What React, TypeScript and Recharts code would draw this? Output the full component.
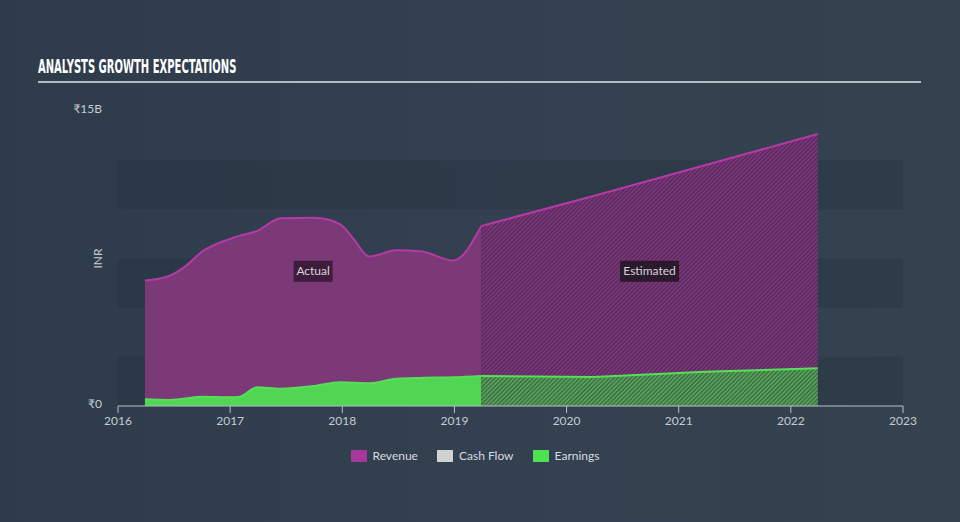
import React from "react";
import {
  ComposedChart,
  Area,
  XAxis,
  YAxis,
  ReferenceArea,
  ReferenceDot,
  Legend,
} from "recharts";

// reported figures (₹ billions), dates as fractional years
const actualDates = [
  2016.24, 2016.45, 2016.6, 2016.75, 2017.0, 2017.08, 2017.24, 2017.45, 2017.75,
  2017.98, 2018.1, 2018.24, 2018.48, 2018.7, 2018.99, 2019.24,
];
const revenueActual = [
  6.38, 6.6, 7.1, 7.85, 8.5, 8.65, 8.9, 9.55, 9.57, 9.25, 8.5, 7.6, 7.92, 7.87, 7.4, 9.15,
];
const earningsActual = [
  0.34, 0.31, 0.38, 0.47, 0.44, 0.46, 0.95, 0.88, 1.02, 1.21, 1.18, 1.16, 1.38, 1.43, 1.46, 1.53,
];

// analyst estimates
const estimateDates = [2019.24, 2020.24, 2021.24, 2022.24];
const revenueEstimate = [9.15, 10.68, 12.25, 13.83];
const earningsEstimate = [1.53, 1.47, 1.74, 1.92];

const yearTicks = [2016, 2017, 2018, 2019, 2020, 2021, 2022, 2023];
const valueTicks = [0, 15];
const bandRanges = [
  [0, 2.5],
  [5, 7.5],
  [10, 12.5],
];

const legendItems = [
  { label: "Revenue", color: "#a8379c" },
  { label: "Cash Flow", color: "#d0d0d0" },
  { label: "Earnings", color: "#4fe250" },
];

const allDates = Array.from(new Set([...actualDates, ...estimateDates])).sort((a, b) => a - b);
const rows = allDates.map((t) => {
  const ai = actualDates.indexOf(t);
  const ei = estimateDates.indexOf(t);
  return {
    t,
    revenueActual: ai >= 0 ? revenueActual[ai] : null,
    earningsActual: ai >= 0 ? earningsActual[ai] : null,
    revenueEstimate: ei >= 0 ? revenueEstimate[ei] : null,
    earningsEstimate: ei >= 0 ? earningsEstimate[ei] : null,
  };
});

const actualMid = (actualDates[0] + actualDates[actualDates.length - 1]) / 2;
const estimateMid = (estimateDates[0] + estimateDates[estimateDates.length - 1]) / 2;
const LABEL_Y = 6.85;

const FONT = "Lato, 'Open Sans', 'DejaVu Sans', sans-serif";

function TagBox({ cx, cy, text, w, bg }: any) {
  if (cx == null || cy == null) return null;
  return (
    <g>
      <rect x={cx - w / 2} y={cy - 10.5} width={w} height={21} fill={bg} />
      <text
        x={cx}
        y={cy + 4}
        textAnchor="middle"
        fill="#d9d3da"
        fontSize={12}
        fontFamily={FONT}
      >
        {text}
      </text>
    </g>
  );
}

function renderLegend() {
  return (
    <div
      style={{
        height: 86,
        display: "flex",
        justifyContent: "center",
        alignItems: "flex-start",
        paddingTop: 13,
        boxSizing: "border-box",
        marginLeft: 47,
        gap: 19,
        fontFamily: FONT,
        fontSize: 12,
        color: "#d6dbe0",
      }}
    >
      {legendItems.map((item) => (
        <div key={item.label} style={{ display: "flex", alignItems: "center" }}>
          <span
            style={{
              display: "inline-block",
              width: 16,
              height: 12,
              background: item.color,
              marginRight: 6,
            }}
          />
          <span style={{ lineHeight: "14px" }}>{item.label}</span>
        </div>
      ))}
    </div>
  );
}

export default function App() {
  return (
    <div
      style={{
        position: "absolute",
        left: 0,
        top: 0,
        width: 960,
        height: 522,
        background: "linear-gradient(90deg, #2e3b4a 0%, #334150 60%, #34424f 100%)",
        fontFamily: FONT,
        overflow: "hidden",
      }}
    >
      <div
        style={{
          position: "absolute",
          left: 38,
          top: 54,
          color: "#ffffff",
          fontFamily: "'DejaVu Sans', sans-serif",
          fontWeight: 700,
          fontSize: 20,
          lineHeight: "24px",
          whiteSpace: "nowrap",
          transform: "scaleX(0.5)",
          transformOrigin: "left top",
        }}
      >
        ANALYSTS GROWTH EXPECTATIONS
      </div>
      <div
        style={{
          position: "absolute",
          left: 38,
          top: 81,
          width: 883,
          height: 2,
          background: "#b4bbc2",
        }}
      />
      <ComposedChart
        width={960}
        height={522}
        data={rows}
        margin={{ top: 111, right: 57, bottom: 0, left: 0 }}
      >
        <defs>
          <pattern
            id="hatchRevenue"
            patternUnits="userSpaceOnUse"
            width="3"
            height="3"
            patternTransform="rotate(45)"
          >
            <rect width="3" height="3" fill="#52295a" />
            <line x1="0.75" y1="0" x2="0.75" y2="3" stroke="#85397f" strokeWidth="1.5" />
          </pattern>
          <pattern
            id="hatchEarnings"
            patternUnits="userSpaceOnUse"
            width="3"
            height="3"
            patternTransform="rotate(45)"
          >
            <rect width="3" height="3" fill="#4a5c52" />
            <line x1="0.75" y1="0" x2="0.75" y2="3" stroke="#4cb84e" strokeWidth="1.5" />
          </pattern>
        </defs>
        {bandRanges.map(([lo, hi]) => (
          <ReferenceArea
            key={lo}
            y1={lo}
            y2={hi}
            fill="#222e3b"
            fillOpacity={0.3}
            stroke="none"
            ifOverflow="visible"
          />
        ))}
        <XAxis
          dataKey="t"
          type="number"
          domain={[2016, 2023]}
          ticks={yearTicks}
          allowDataOverflow
          height={30}
          stroke="#b9c0c7"
          tickSize={7}
          tickMargin={3}
          tick={{ fill: "#c6ccd2", fontSize: 12 }}
        />
        <YAxis
          type="number"
          domain={[0, 15]}
          ticks={valueTicks}
          width={118}
          axisLine={false}
          tickLine={false}
          tickSize={6}
          tickMargin={10}
          tick={{ fill: "#c6ccd2", fontSize: 12, dy: -2 }}
          tickFormatter={(v: number) => (v === 0 ? "₹0" : `₹${v}B`)}
          label={{
            value: "INR",
            angle: -90,
            position: "center",
            dx: 39,
            fill: "#c6ccd2",
            fontSize: 12,
          }}
        />
        <Area
          dataKey="revenueActual"
          type="monotone"
          stroke="#b43ba6"
          strokeWidth={2}
          fill="#7b3a77"
          fillOpacity={1}
          isAnimationActive={false}
          dot={false}
          activeDot={false}
        />
        <Area
          dataKey="revenueEstimate"
          type="linear"
          stroke="#b43ba6"
          strokeWidth={2}
          fill="url(#hatchRevenue)"
          fillOpacity={1}
          isAnimationActive={false}
          dot={false}
          activeDot={false}
        />
        <Area
          dataKey="earningsActual"
          type="monotone"
          stroke="#55e058"
          strokeWidth={2}
          fill="#50d653"
          fillOpacity={1}
          isAnimationActive={false}
          dot={false}
          activeDot={false}
        />
        <Area
          dataKey="earningsEstimate"
          type="linear"
          stroke="#55e058"
          strokeWidth={2}
          fill="url(#hatchEarnings)"
          fillOpacity={1}
          isAnimationActive={false}
          dot={false}
          activeDot={false}
        />
        <ReferenceDot
          x={actualMid}
          y={LABEL_Y}
          r={0}
          ifOverflow="visible"
          shape={(p: any) => <TagBox {...p} text="Actual" w={39} bg="#3d1d3b" />}
        />
        <ReferenceDot
          x={estimateMid}
          y={LABEL_Y}
          r={0}
          ifOverflow="visible"
          shape={(p: any) => <TagBox {...p} text="Estimated" w={59} bg="#2b1a2d" />}
        />
        <Legend verticalAlign="bottom" content={renderLegend} />
      </ComposedChart>
    </div>
  );
}
